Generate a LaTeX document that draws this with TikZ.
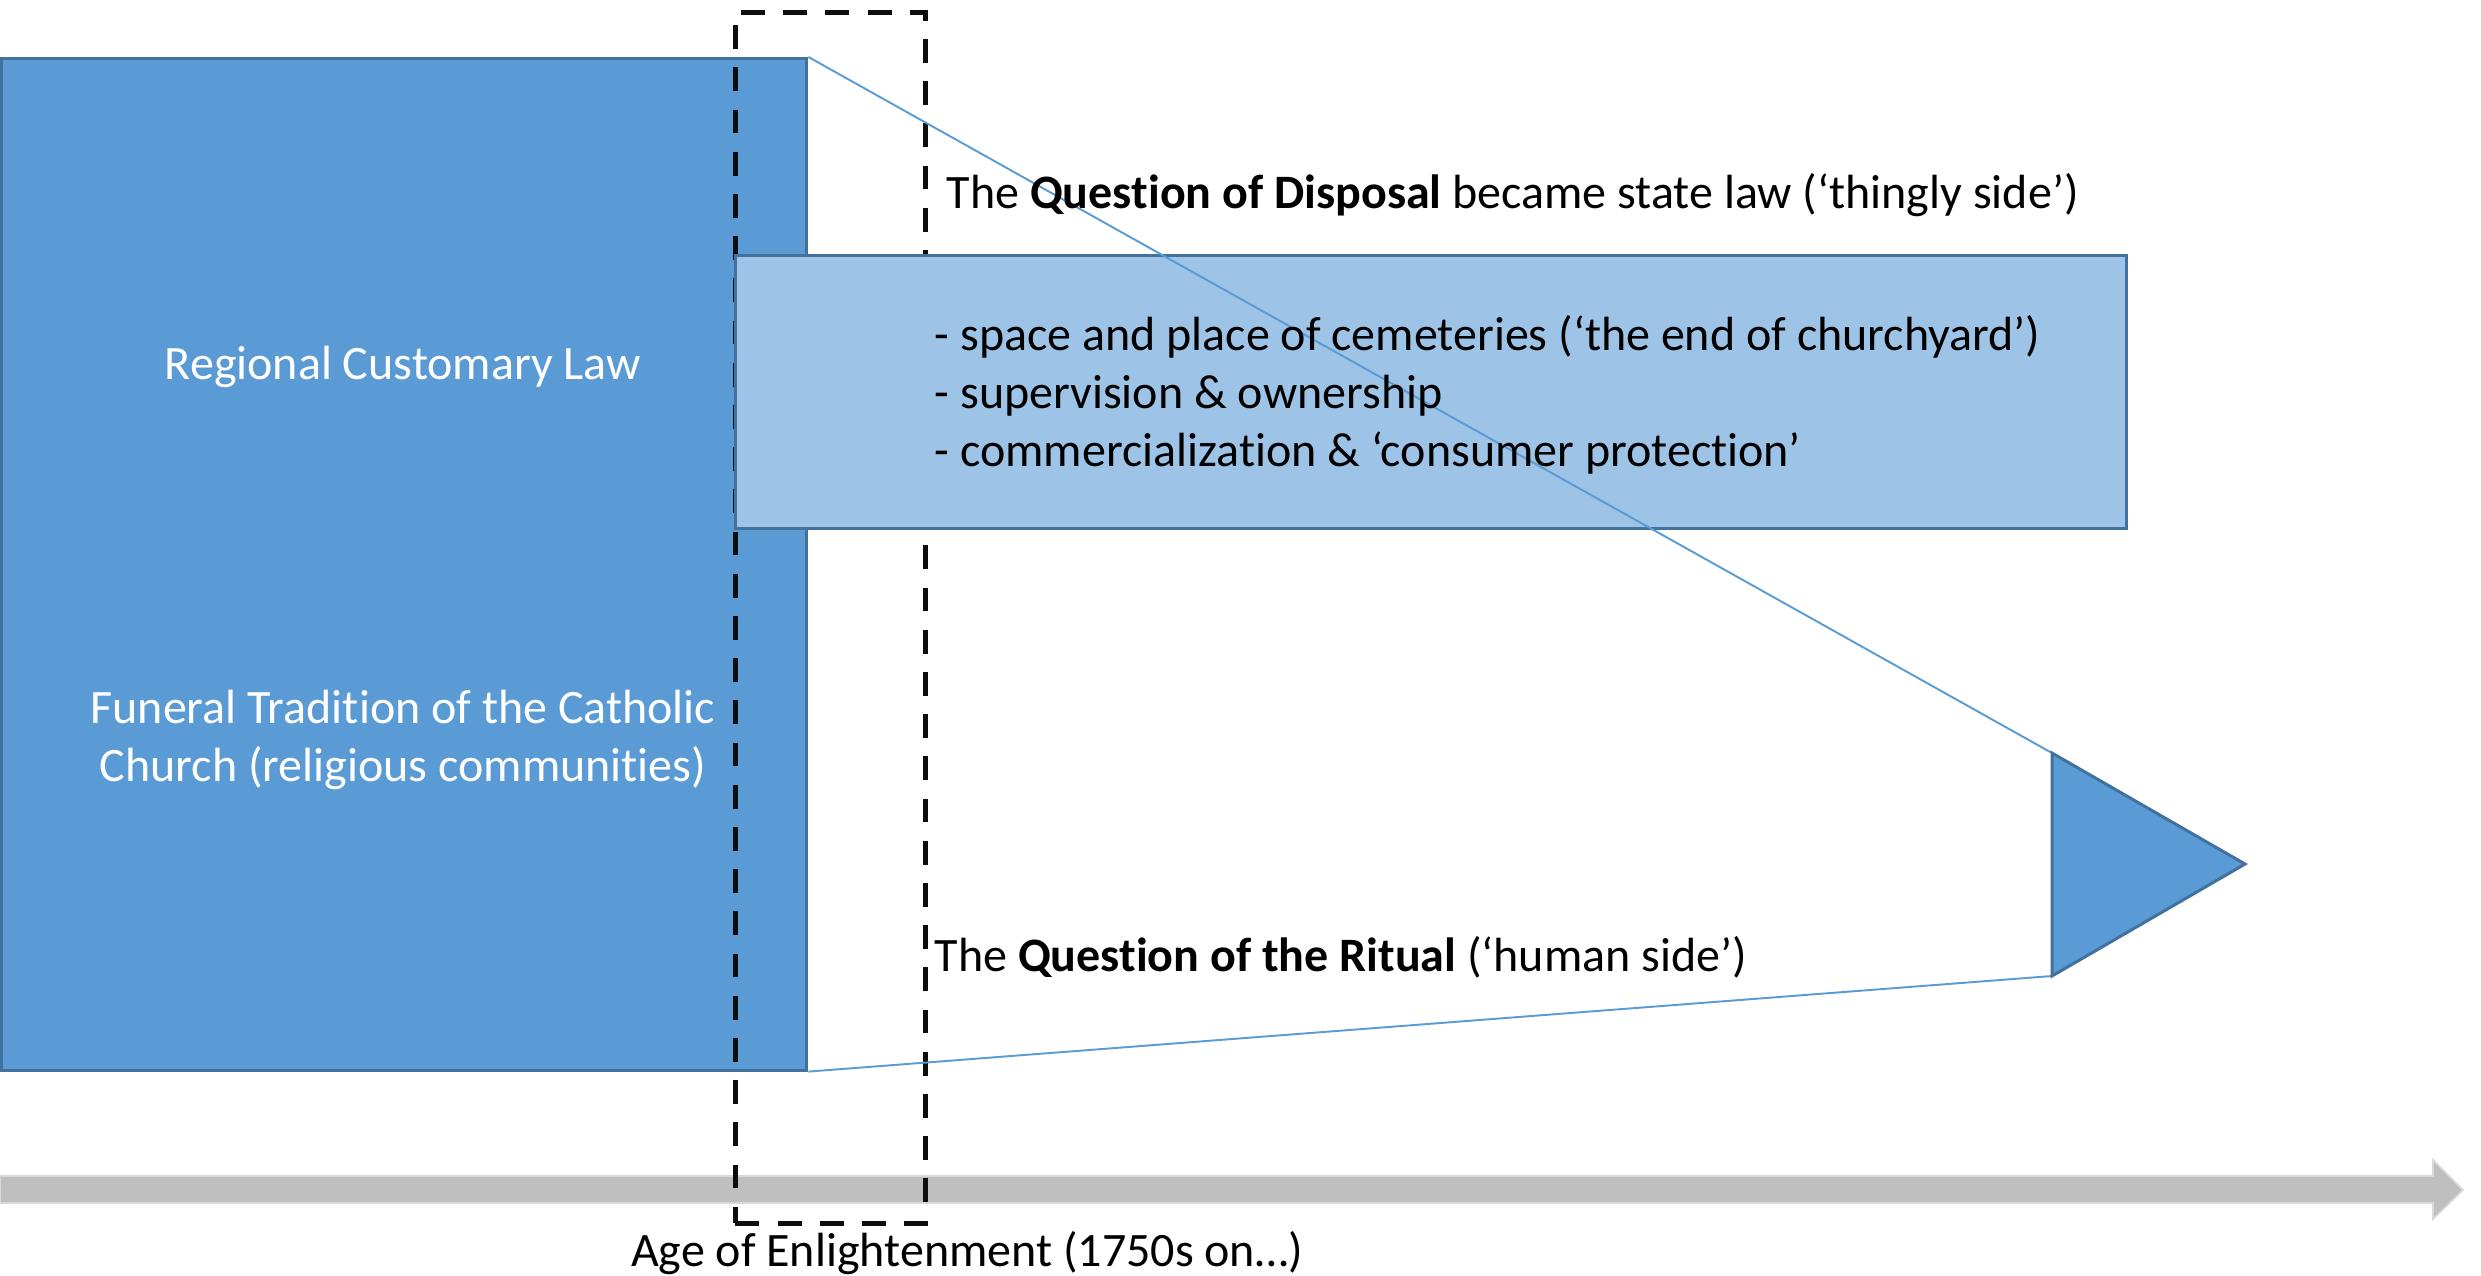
\documentclass[tikz,border=0pt]{standalone}
\usepackage{fontspec}
\setmainfont{Carlito}[Ligatures=NoCommon]
\definecolor{blueA}{HTML}{5B9BD5}
\definecolor{blueB}{HTML}{9DC3E6}
\definecolor{bordA}{HTML}{41719C}
\definecolor{greyA}{HTML}{BFBFBF}
\definecolor{greyB}{HTML}{D9D9D9}
\definecolor{dashcol}{HTML}{0D0D0D}
\tikzset{
  lbl/.style={inner sep=0pt, font=\fontsize{13.65pt}{16.2pt}\selectfont},
  wlbl/.style={lbl, text=white},
  thinconn/.style={draw=blueA, line width=0.55pt},
  bordered/.style={draw=bordA, line width=0.85pt},
}
\begin{document}
\begin{tikzpicture}[x=0.01cm,y=-0.01cm]
\useasboundingbox (0,0) rectangle (2481,1275);
% timeline arrow
\draw[draw=greyB, fill=greyA, line width=0.5pt] (0,1176) -- (2433,1176) -- (2433,1160) -- (2463,1190) -- (2433,1219) -- (2433,1203) -- (0,1203) -- cycle;
% big rectangle
\node[bordered, fill=blueA, inner sep=0pt, minimum width=8.05cm, minimum height=10.11cm, anchor=north west] (big) at (0,57) {};
\node[wlbl, anchor=base] (rcl) at (403,379) {Regional Customary Law};
\node[wlbl, anchor=base] (ft1) at (403,723) {Funeral Tradition of the Catholic};
\node[wlbl, anchor=base] (ft2) at (403,781) {Church (religious communities)};
% dashed rectangle
\node[draw=dashcol, line width=1.4pt, dash pattern=on 6.8pt off 5.2pt, inner sep=0pt, minimum width=1.90cm, minimum height=12.10cm, anchor=north west] (enl) at (733,10) {};
% light box
\node[bordered, fill=blueB, inner sep=0pt, minimum width=13.90cm, minimum height=2.73cm, anchor=north west] (lbox) at (734,254) {};
% triangle corners
\coordinate (tA) at (2052,753);
\coordinate (tB) at (2245,864);
\coordinate (tC) at (2052,976);
% connectors
\draw[thinconn] (big.north east) -- (tA);
\draw[thinconn] (big.south east) -- (tC);
\draw[bordered, fill=blueA, line join=miter] (tA) -- (tB) -- (tC) -- cycle;
% list text
\node[lbl, anchor=base west] (l1) at (934,350) {- space and place of cemeteries (‘the end of churchyard’)};
\node[lbl, anchor=base west] (l2) at (934,408) {- supervision \& ownership};
\node[lbl, anchor=base west] (l3) at (934,466) {- commercialization \& ‘consumer protection’};
% other labels
\node[lbl, anchor=base west] (qd) at (946,208) {The \textbf{Question of Disposal} became state law (‘thingly side’)};
\node[lbl, anchor=base west] (qr) at (934,971) {The \textbf{Question of the Ritual} (‘human side’)};
\node[lbl, anchor=base] (age) at (967,1266) {Age of Enlightenment (1750s on…)};
\end{tikzpicture}
\end{document}
